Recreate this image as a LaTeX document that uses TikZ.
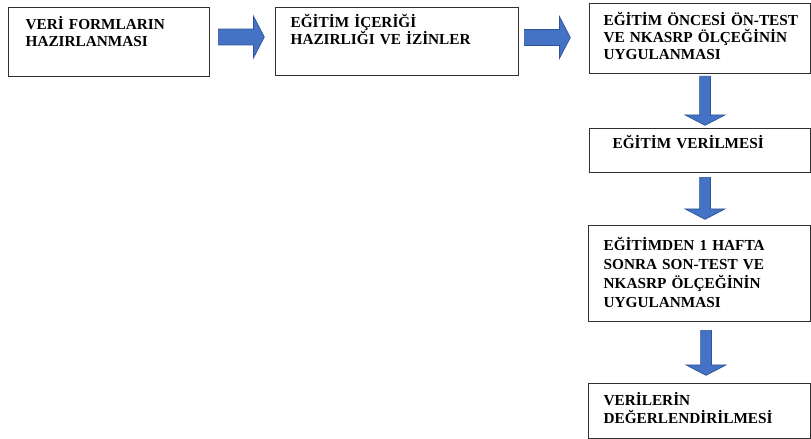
\documentclass[tikz,border=0pt]{standalone}
\usepackage{fontspec}
\setmainfont{Liberation Serif}
\usepackage{xcolor}
\usepackage{tikz}
\usetikzlibrary{shapes.arrows}
\definecolor{arrowblue}{HTML}{4472C4}
\definecolor{arrowedge}{HTML}{2F5597}
\definecolor{boxedge}{HTML}{303030}

\begin{document}
\begin{tikzpicture}[x=0.02cm,y=-0.02cm,
    stepbox/.style={draw=boxedge, line width=0.7pt, anchor=north west, align=left,
      inner ysep=0pt, font=\fontsize{8.7}{9.7}\selectfont\bfseries},
    fatarrow/.style={single arrow, draw=arrowedge, fill=arrowblue, line width=0.4pt,
      anchor=tail, single arrow tip angle=125},
    rightarrow/.style={fatarrow, inner sep=0.15cm, minimum width=0.84cm, single arrow head extend=0.26cm},
    downarrow/.style={fatarrow, inner sep=0.10cm, minimum width=0.80cm, single arrow head extend=0.29cm,
      shape border rotate=270}]
    \useasboundingbox (0,0) rectangle (811,439);
    % top row
    \node[stepbox, text width=3.34cm, inner xsep=0.34cm, text height=0.44cm, text depth=0.94cm]
      (forms) at (8,7) {VERİ FORMLARIN\\HAZIRLANMASI};
    \node[stepbox, text width=4.26cm, inner xsep=0.30cm, text height=0.40cm, text depth=0.96cm]
      (content) at (275,7) {EĞİTİM İÇERİĞİ\\HAZIRLIĞI VE İZİNLER};
    \node[stepbox, text width=3.86cm, inner xsep=0.28cm, text height=0.44cm, text depth=0.96cm]
      (pretest) at (589,3) {\mbox{EĞİTİM ÖNCESİ ÖN-TEST}\\VE NKASRP ÖLÇEĞİNİN\\UYGULANMASI};
    % right column
    \node[stepbox, text width=3.50cm, inner xsep=0.46cm, text height=0.40cm, text depth=0.48cm]
      (training) at (589,128) {EĞİTİM VERİLMESİ};
    \node[stepbox, text width=3.84cm, inner xsep=0.30cm, text height=0.50cm, text depth=1.42cm,
      font=\fontsize{8.7}{10.8}\selectfont\bfseries]
      (posttest) at (588,225) {EĞİTİMDEN 1 HAFTA\\SONRA SON-TEST VE\\NKASRP ÖLÇEĞİNİN\\UYGULANMASI};
    \node[stepbox, text width=3.84cm, inner xsep=0.30cm, text height=0.44cm, text depth=0.66cm,
      font=\fontsize{8.7}{10.4}\selectfont\bfseries]
      (analysis) at (588,383) {VERİLERİN\\DEĞERLENDİRİLMESİ};
    % block arrows
    \node[rightarrow, minimum height=0.92cm] (a1) at (218,37) {};
    \node[rightarrow, minimum height=0.92cm] (a2) at (524,37.5) {};
    \node[downarrow, minimum height=0.98cm] (a3) at (705,76) {};
    \node[downarrow, minimum height=0.84cm] (a4) at (705,177) {};
    \node[downarrow, minimum height=0.90cm] (a5) at (706,330) {};
  \end{tikzpicture}
\end{document}
